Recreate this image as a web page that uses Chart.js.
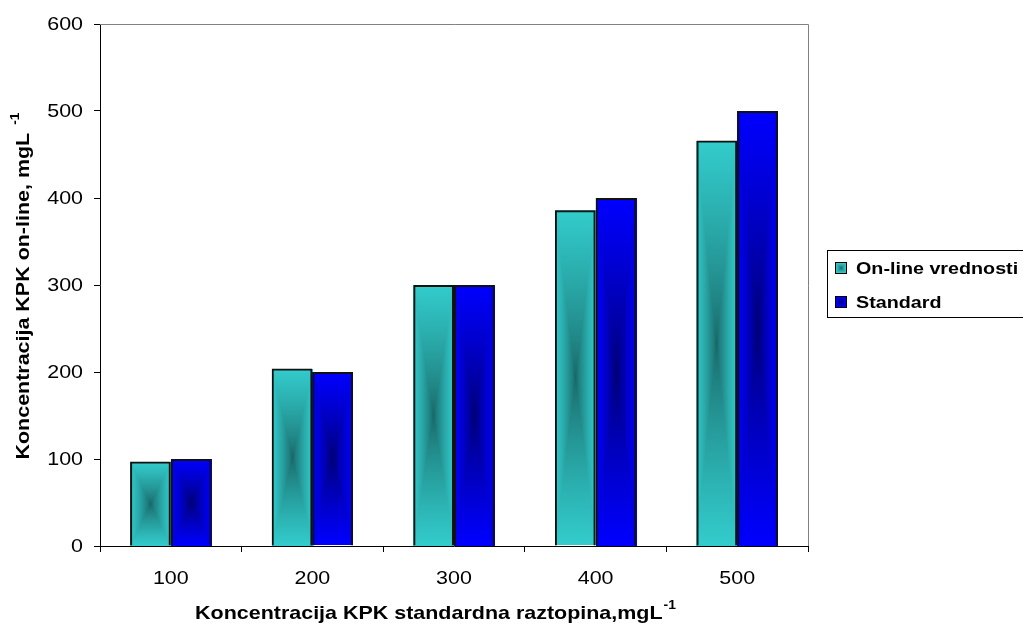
<!DOCTYPE html>
<html>
<head>
<meta charset="utf-8">
<title>Koncentracija KPK</title>
<script src="https://cdn.jsdelivr.net/npm/chart.js@4/dist/chart.umd.min.js"></script>
<style>
  html, body { margin: 0; padding: 0; background: #fff; }
  #wrap { width: 1023px; height: 629px; position: relative; }
</style>
</head>
<body>
<div id="wrap"><canvas id="kpkChart" width="1023" height="629"></canvas></div>
<script>
// ---------------------------------------------------------------------------
// data
// ---------------------------------------------------------------------------
const categories = ['100', '200', '300', '400', '500'];
const onlineValues = [97, 204, 300, 386, 466];
const standardValues = [100, 200, 300, 400, 500];
const seriesNames = ['On-line vrednosti', 'Standard'];
const yTicks = [0, 100, 200, 300, 400, 500, 600];

const xTitle = 'Koncentracija KPK standardna raztopina,mgL';
const yTitle = 'Koncentracija KPK on-line, mgL';
const unitSup = '-1';

// edge colour / centre colour of the "from centre" fill for each series
const fills = [
  { edge: [51, 204, 204], center: [24, 100, 100] },
  { edge: [0, 0, 255], center: [0, 0, 110] }
];

const FONT = '"Liberation Sans", Arial, Helvetica, sans-serif';
const SX = 1.16; // the old export draws its text a bit wide

// paints a rectangle with a rectangular gradient: dark in the middle, light at the edges
function paintCenterGradient(ctx, left, top, width, height, fill) {
  const w = Math.max(1, Math.round(width));
  const h = Math.max(1, Math.round(height));
  const off = document.createElement('canvas');
  off.width = w;
  off.height = h;
  const octx = off.getContext('2d');
  const img = octx.createImageData(w, h);
  const hw = w / 2, hh = h / 2;
  for (let j = 0; j < h; j++) {
    const dy = Math.abs(j + 0.5 - hh) / hh;
    for (let i = 0; i < w; i++) {
      const dx = Math.abs(i + 0.5 - hw) / hw;
      const t = Math.pow(Math.max(dx, dy), 0.75);
      const k = (j * w + i) * 4;
      img.data[k] = fill.center[0] + (fill.edge[0] - fill.center[0]) * t;
      img.data[k + 1] = fill.center[1] + (fill.edge[1] - fill.center[1]) * t;
      img.data[k + 2] = fill.center[2] + (fill.edge[2] - fill.center[2]) * t;
      img.data[k + 3] = 255;
    }
  }
  octx.putImageData(img, 0, 0);
  ctx.drawImage(off, Math.round(left), Math.round(top));
}

// text drawn with a horizontal stretch (optionally rotated)
function wideText(ctx, text, x, y, font, align, baseline, rot) {
  ctx.save();
  ctx.font = font;
  ctx.textAlign = align;
  ctx.textBaseline = baseline;
  ctx.translate(x, y);
  if (rot) ctx.rotate(rot);
  ctx.scale(SX, 1);
  ctx.fillText(text, 0, 0);
  ctx.restore();
}

function wideWidth(ctx, text, font) {
  ctx.save();
  ctx.font = font;
  const w = ctx.measureText(text).width * SX;
  ctx.restore();
  return w;
}

// fill every bar before Chart.js strokes its border on top
const gradientBars = {
  id: 'gradientBars',
  beforeDatasetsDraw(chart) {
    const ctx = chart.ctx;
    chart.data.datasets.forEach((ds, di) => {
      const meta = chart.getDatasetMeta(di);
      meta.data.forEach(bar => {
        const p = bar.getProps(['x', 'y', 'base', 'width'], true);
        const left = p.x - p.width / 2;
        const top = Math.min(p.y, p.base);
        const height = Math.abs(p.base - p.y);
        paintCenterGradient(ctx, left, top, p.width, height, fills[di]);
      });
    });
  }
};

// plot frame, tick labels, axis titles with superscript units, boxed legend
const decorations = {
  id: 'decorations',
  beforeDatasetsDraw(chart) {
    const { ctx, chartArea: a } = chart;
    ctx.save();
    ctx.strokeStyle = '#808080';
    ctx.lineWidth = 1;
    ctx.beginPath();
    ctx.moveTo(a.left, a.top + 0.5);
    ctx.lineTo(a.right + 0.5, a.top + 0.5);
    ctx.lineTo(a.right + 0.5, a.bottom);
    ctx.stroke();
    ctx.restore();
  },
  afterDraw(chart) {
    const { ctx, chartArea: a } = chart;
    const xs = chart.scales.x, ys = chart.scales.y;
    const tickFont = '18.5px ' + FONT;
    const titleFont = 'bold 18.5px ' + FONT;
    const supFont = 'bold 12px ' + FONT;
    ctx.fillStyle = '#000';

    // tick labels
    ys.ticks.forEach(t => {
      wideText(ctx, String(t.value), a.left - 17, ys.getPixelForValue(t.value) + 1, tickFont, 'right', 'middle');
    });
    categories.forEach((c, i) => {
      wideText(ctx, xs.getLabelForValue(i), xs.getPixelForTick(i), 584, tickFont, 'center', 'alphabetic');
    });

    // x title
    const xw = wideWidth(ctx, xTitle, titleFont);
    const xsw = wideWidth(ctx, unitSup, supFont);
    const x0 = 435 - (xw + xsw) / 2;
    wideText(ctx, xTitle, x0, 619, titleFont, 'left', 'alphabetic');
    wideText(ctx, unitSup, x0 + xw + 1, 609, supFont, 'left', 'alphabetic');

    // y title, reading upwards
    const yw = wideWidth(ctx, yTitle + ' ', titleFont);
    const ysw = wideWidth(ctx, unitSup, supFont);
    const yc = (a.top + a.bottom) / 2 + 2;
    const y0 = yc + (yw + ysw) / 2;
    wideText(ctx, yTitle, 29, y0, titleFont, 'left', 'alphabetic', -Math.PI / 2);
    wideText(ctx, unitSup, 19, y0 - yw - 2, supFont, 'left', 'alphabetic', -Math.PI / 2);

    // legend
    ctx.save();
    const lx = 827.5, ly = 250.5;
    ctx.fillStyle = '#fff';
    ctx.fillRect(lx, ly, 220, 67);
    ctx.strokeStyle = '#000';
    ctx.lineWidth = 1;
    ctx.strokeRect(lx, ly, 220, 67);
    seriesNames.forEach((name, i) => {
      const cy = 268 + i * 34;
      paintCenterGradient(ctx, 836, cy - 5, 10, 10, fills[i]);
      ctx.strokeStyle = '#000';
      ctx.strokeRect(835.5, cy - 5.5, 11, 11);
      ctx.fillStyle = '#000';
      wideText(ctx, name, 856, cy + 1, 'bold 17px ' + FONT, 'left', 'middle');
    });
    ctx.restore();
  }
};

function renderKpkChart() {
  const canvas = document.getElementById('kpkChart');
  new Chart(canvas, {
    type: 'bar',
    data: {
      labels: categories,
      datasets: [
        {
          label: seriesNames[0],
          data: onlineValues,
          backgroundColor: 'rgba(0,0,0,0)',
          borderColor: '#111',
          borderWidth: 2,
          categoryPercentage: 0.575,
          barPercentage: 1
        },
        {
          label: seriesNames[1],
          data: standardValues,
          backgroundColor: 'rgba(0,0,0,0)',
          borderColor: '#111',
          borderWidth: 2,
          categoryPercentage: 0.575,
          barPercentage: 1
        }
      ]
    },
    options: {
      responsive: false,
      animation: false,
      devicePixelRatio: 1,
      layout: { padding: { left: 0, right: 215, top: 24, bottom: 0 } },
      plugins: {
        legend: { display: false },
        tooltip: { enabled: false }
      },
      scales: {
        x: {
          grid: {
            display: true,
            offset: true,
            drawOnChartArea: false,
            drawTicks: true,
            tickLength: 6,
            color: '#000'
          },
          border: { display: true, color: '#000', width: 1 },
          ticks: { display: false },
          afterFit(scale) { scale.height = 83; }
        },
        y: {
          min: 0,
          max: 600,
          afterBuildTicks(scale) {
            scale.ticks = yTicks.map(v => ({ value: v }));
          },
          grid: {
            display: true,
            drawOnChartArea: false,
            drawTicks: true,
            tickLength: 6,
            color: '#000'
          },
          border: { display: true, color: '#000', width: 1 },
          ticks: { display: false },
          afterFit(scale) { scale.width = 100; }
        }
      }
    },
    plugins: [gradientBars, decorations]
  });
}

if (document.readyState === 'loading') {
  document.addEventListener('DOMContentLoaded', renderKpkChart);
} else {
  renderKpkChart();
}
</script>
</body>
</html>
